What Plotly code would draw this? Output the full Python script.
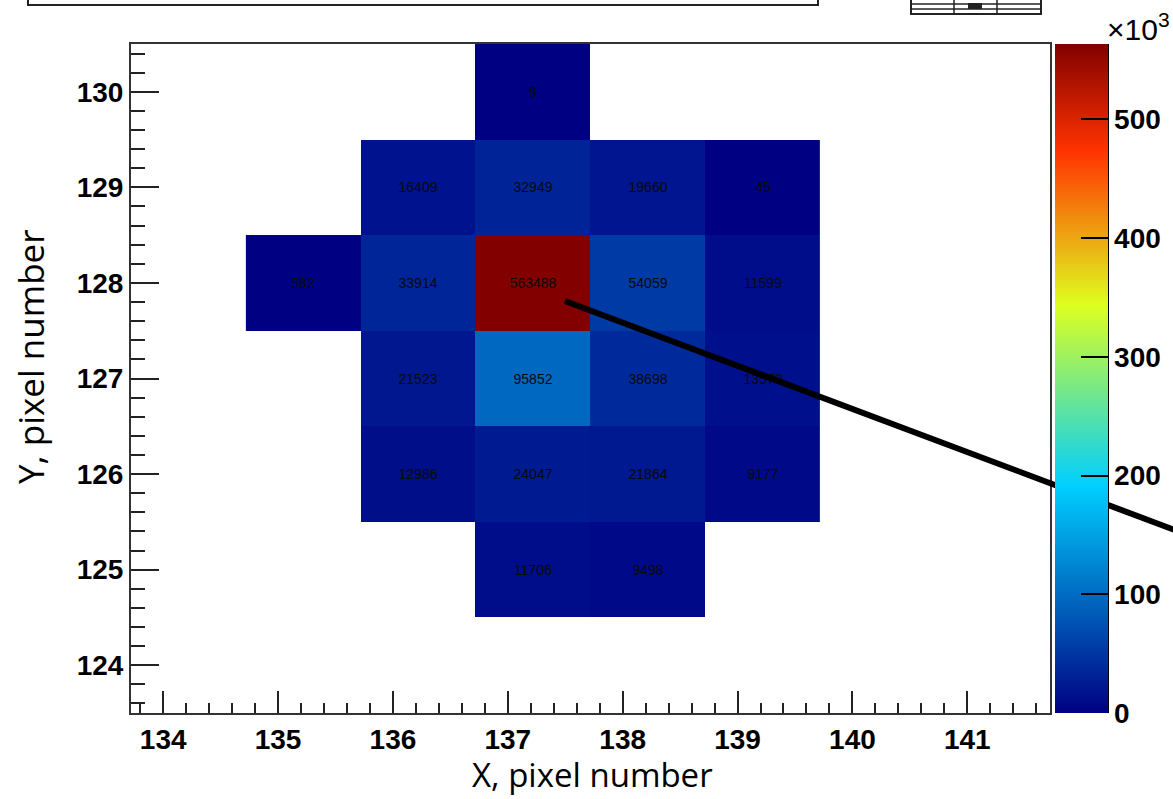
import plotly.graph_objects as go

# ---- data: pixel hit counts (x pixel, y pixel, counts) ----
x_centers = [135.22, 136.22, 137.22, 138.22, 139.22]   # bin centres on the x axis
y_centers = [125, 126, 127, 128, 129, 130]
cell_x = [137, 136, 137, 138, 139, 135, 136, 137, 138, 139, 136, 137, 138, 139, 136, 137, 138, 139, 137, 138]
cell_y = [130, 129, 129, 129, 129, 128, 128, 128, 128, 128, 127, 127, 127, 127, 126, 126, 126, 126, 125, 125]
counts = [9, 16409, 32949, 19660, 45, 582, 33914, 563488, 54059, 11599,
          21523, 95852, 38698, 13570, 12986, 24047, 21864, 9177, 11706, 9498]
cbar_vals = [0, 100000, 200000, 300000, 400000, 500000]
cbar_text = ["0", "100", "200", "300", "400", "500"]
x_ticks = [134, 135, 136, 137, 138, 139, 140, 141]
y_ticks = [124, 125, 126, 127, 128, 129, 130]

col_ids = [135, 136, 137, 138, 139]
z = [[None] * len(x_centers) for _ in y_centers]
txt = [[" "] * len(x_centers) for _ in y_centers]
for cx, cy, c in zip(cell_x, cell_y, counts):
    i = y_centers.index(cy)
    j = col_ids.index(cx)
    z[i][j] = c
    txt[i][j] = str(c)

root_scale = [
    [0.00, "rgb(0,0,130)"],
    [0.34, "rgb(0,207,255)"],
    [0.61, "rgb(222,255,31)"],
    [0.84, "rgb(255,51,0)"],
    [1.00, "rgb(130,0,0)"],
]

# layout geometry in pixels
L, R, T, B = 131, 1050, 44, 713
W, H = 1173, 799


def px(x):
    return (x - L) / (R - L)


def py(y):
    return (B - y) / (B - T)


fig = go.Figure(go.Heatmap(
    x=x_centers, y=y_centers, z=z, text=txt, texttemplate="%{text}",
    textfont=dict(family="Liberation Sans", size=14, color="#0a0a0a"),
    colorscale=root_scale, zmin=0, zmax=563488, hoverongaps=False,
    colorbar=dict(
        x=px(1055), xanchor="left", xpad=0, y=0.5, yanchor="middle", ypad=0,
        len=1, lenmode="fraction", thickness=53, thicknessmode="pixels",
        outlinewidth=0, ticks="inside", ticklen=27, tickwidth=2, tickcolor="black",
        tickvals=cbar_vals, ticktext=cbar_text,
        tickfont=dict(family="Liberation Sans", size=28, color="black", weight="bold"),
    ),
))

axis_font = dict(family="Liberation Sans", size=28, color="black", weight="bold")
fig.update_xaxes(
    range=[133.72, 141.72], tickvals=x_ticks, ticks="inside", ticklen=22, tickwidth=2,
    tickcolor="#222", showgrid=False, zeroline=False, showline=True, linecolor="#333",
    linewidth=2, mirror=True, tickfont=axis_font, ticklabelstandoff=0,
    minor=dict(dtick=0.2, tick0=134, ticks="inside", ticklen=10, tickwidth=1.5, tickcolor="#222"),
)
fig.update_yaxes(
    range=[123.5, 130.5], tickvals=y_ticks, ticks="inside", ticklen=28, tickwidth=2,
    tickcolor="#222", showgrid=False, zeroline=False, showline=True, linecolor="#333",
    linewidth=2, mirror=True, tickfont=axis_font,
    minor=dict(dtick=0.2, tick0=124, ticks="inside", ticklen=14, tickwidth=1.5, tickcolor="#222"),
)

shapes = [
    # palette axis line
    dict(type="line", xref="paper", yref="paper", x0=px(1108), x1=px(1108), y0=0, y1=1,
         line=dict(color="black", width=2)),
    # pointer line drawn over the picture
    dict(type="line", xref="paper", yref="paper", x0=px(565), y0=py(301), x1=px(1180), y1=py(532),
         line=dict(color="black", width=6)),
    # partial box at the top-left
    dict(type="rect", xref="paper", yref="paper", x0=px(28), x1=px(818), y0=py(-20), y1=py(5),
         line=dict(color="#222", width=2)),
    # small icon at top
    dict(type="rect", xref="paper", yref="paper", x0=px(911), x1=px(1041), y0=py(-5), y1=py(14),
         line=dict(color="#222", width=2)),
    dict(type="line", xref="paper", yref="paper", x0=px(911), x1=px(1041), y0=py(9), y1=py(9),
         line=dict(color="#222", width=1.5)),
    dict(type="line", xref="paper", yref="paper", x0=px(911), x1=px(1041), y0=py(4), y1=py(4),
         line=dict(color="#222", width=1.5)),
]
for vx in [954, 997]:
    shapes.append(dict(type="line", xref="paper", yref="paper", x0=px(vx), x1=px(vx), y0=py(0), y1=py(14),
                       line=dict(color="#222", width=1.5)))
shapes.append(dict(type="rect", xref="paper", yref="paper", x0=px(968), x1=px(982), y0=py(3), y1=py(9),
                   fillcolor="#222", line=dict(width=0)))

annotations = [
    dict(text="X, pixel number", xref="paper", yref="paper", x=px(592), y=py(799),
         xanchor="center", yanchor="bottom", showarrow=False,
         font=dict(family="Open Sans", size=33, color="black")),
    dict(text="Y, pixel number", xref="paper", yref="paper", x=px(30), y=py(357),
         xanchor="center", yanchor="middle", showarrow=False, textangle=-90,
         font=dict(family="Open Sans", size=35, color="black")),
    dict(text="×10<sup>3</sup>", xref="paper", yref="paper", x=px(1105), y=py(27),
         xanchor="left", yanchor="middle", showarrow=False,
         font=dict(family="Liberation Sans", size=30, color="black")),
]

fig.update_layout(
    width=W, height=H, margin=dict(l=L, r=W - R, t=T, b=H - B, autoexpand=False),
    paper_bgcolor="white", plot_bgcolor="white", shapes=shapes, annotations=annotations,
    showlegend=False,
)

fig.write_html("out.html")
